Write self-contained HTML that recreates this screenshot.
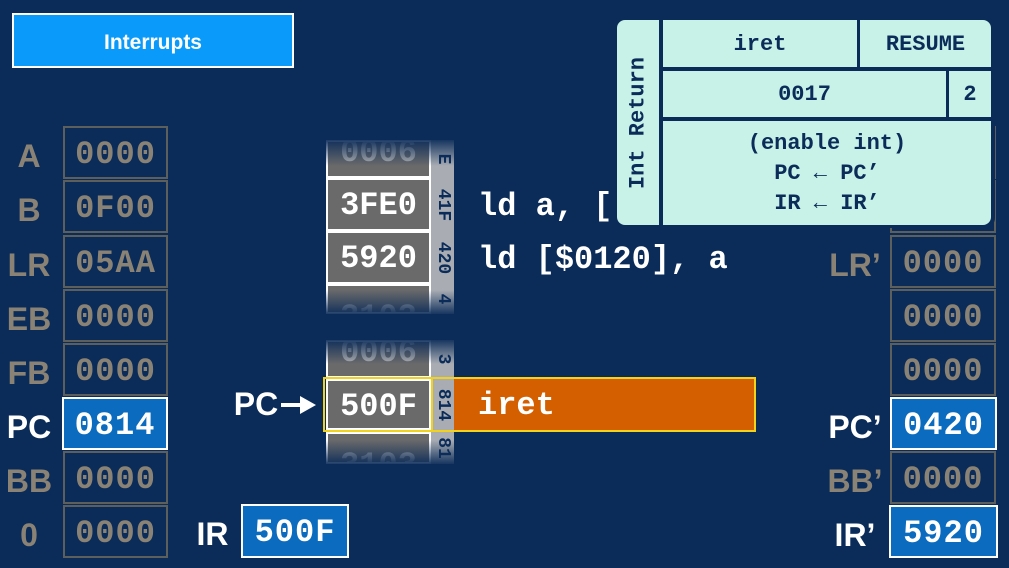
<!DOCTYPE html>
<html><head><style>
body{margin:0;width:1009px;height:568px;background:#0b2c59;position:relative;overflow:hidden;font-family:"Liberation Sans",sans-serif}
div{position:absolute;box-sizing:border-box}
.lab{font-weight:bold;font-size:32px;color:#8a8375;text-align:center;line-height:56px}
.reg{border:2px solid #5d5f5c;color:#8a8375;font:bold 32px "Liberation Mono",monospace;text-align:center;line-height:54px;letter-spacing:1px}
.act{background:#0a6bbf;border:2px solid #fff;color:#fff}
.w{color:#fff}
.mem{left:326px;width:105px;background:#6a6a6a;border:2px solid #fff;color:#fff;font:bold 32px "Liberation Mono",monospace;text-align:center;line-height:52px}
.tag{left:431px;width:23px;background:#a9adb3;color:#0b2c59;font:bold 18px "Liberation Mono",monospace}
.tag span{position:absolute;left:50%;top:50%;transform:translate(-50%,-50%) rotate(90deg);white-space:nowrap}
.asm{color:#fff;font:bold 32px "Liberation Mono",monospace;white-space:pre}
.pc{background:#c8f1e7;border-radius:8px;color:#0b2c59;font:bold 22px "Liberation Mono",monospace;text-align:center}
.fadeT{background:linear-gradient(#0b2c59,rgba(11,44,89,0))}
.fadeB{background:linear-gradient(rgba(11,44,89,0),#0b2c59)}
</style></head><body>
<div style="left:12px;top:13px;width:282px;height:55px;background:#0a9bfa;border:2px solid #fff;color:#fff;font-weight:bold;font-size:21px;text-align:center;line-height:55px">Interrupts</div>

<div class="lab" style="left:0;top:128px;width:58px">A</div><div class="reg" style="left:63px;top:126px;width:105px;height:53px">0000</div>
<div class="lab" style="left:0;top:182px;width:58px">B</div><div class="reg" style="left:63px;top:180px;width:105px;height:53px">0F00</div>
<div class="lab" style="left:0;top:237px;width:58px">LR</div><div class="reg" style="left:63px;top:235px;width:105px;height:53px">05AA</div>
<div class="lab" style="left:0;top:291px;width:58px">EB</div><div class="reg" style="left:63px;top:289px;width:105px;height:53px">0000</div>
<div class="lab" style="left:0;top:345px;width:58px">FB</div><div class="reg" style="left:63px;top:343px;width:105px;height:53px">0000</div>
<div class="lab w" style="left:0;top:399px;width:58px">PC</div><div class="reg act" style="left:62px;top:397px;width:106px;height:53px">0814</div>
<div class="lab" style="left:0;top:453px;width:58px">BB</div><div class="reg" style="left:63px;top:451px;width:105px;height:53px">0000</div>
<div class="lab" style="left:0;top:507px;width:58px">0</div><div class="reg" style="left:63px;top:505px;width:105px;height:53px">0000</div>

<div class="lab w" style="left:190px;top:506px;width:45px">IR</div>
<div class="reg act" style="left:241px;top:504px;width:108px;height:54px">500F</div>

<div class="mem" style="top:140px;height:38px;line-height:22px;color:#b0b0b0;overflow:hidden">0006</div>
<div class="tag" style="top:140px;height:38px"><span>E</span></div>
<div class="mem" style="top:178px;height:53px">3FE0</div><div class="tag" style="top:178px;height:53px"><span>41F</span></div>
<div class="mem" style="top:231px;height:53px">5920</div><div class="tag" style="top:231px;height:53px"><span>420</span></div>
<div class="mem" style="top:284px;height:30px;line-height:64px;color:#b0b0b0;overflow:hidden">3103</div>
<div class="tag" style="top:284px;height:30px"><span>4</span></div>
<div class="fadeT" style="left:320px;top:138px;width:140px;height:28px"></div>
<div class="fadeB" style="left:320px;top:290px;width:140px;height:26px"></div>
<div class="asm" style="left:478px;top:188px">ld a, [</div>
<div class="asm" style="left:478px;top:241px">ld [$0120], a</div>

<div class="mem" style="top:340px;height:38px;line-height:22px;color:#b0b0b0;overflow:hidden">0006</div>
<div class="tag" style="top:340px;height:38px"><span>3</span></div>
<div class="mem" style="top:432px;height:32px;line-height:64px;color:#b0b0b0;overflow:hidden">3103</div>
<div class="tag" style="top:432px;height:32px"><span>81</span></div>
<div class="fadeT" style="left:320px;top:338px;width:140px;height:26px"></div>
<div class="fadeB" style="left:320px;top:440px;width:140px;height:26px"></div>
<div style="left:323px;top:377px;width:110px;height:55px;border:2px solid #f2d21b"></div>
<div class="mem" style="top:379px;height:51px;line-height:51px">500F</div>
<div class="tag" style="top:379px;height:51px"><span>814</span></div>
<div style="left:431px;top:377px;width:325px;height:55px;border:2px solid #f2d21b"></div>
<div style="left:454px;top:379px;width:300px;height:51px;background:#d45f00"></div>
<div class="asm" style="left:478px;top:387px">iret</div>
<div class="lab w" style="left:226px;top:376px;width:60px">PC</div>
<div style="left:281px;top:403px;width:22px;height:4px;background:#fff"></div>
<div style="left:300px;top:396px;width:0;height:0;border-left:16px solid #fff;border-top:9px solid transparent;border-bottom:9px solid transparent"></div>

<div class="reg" style="left:890px;top:126px;width:106px;height:53px"></div>
<div class="reg" style="left:890px;top:180px;width:106px;height:53px"></div>
<div class="lab" style="left:822px;top:237px;width:66px">LR’</div><div class="reg" style="left:890px;top:235px;width:106px;height:53px">0000</div>
<div class="reg" style="left:890px;top:289px;width:106px;height:53px">0000</div>
<div class="reg" style="left:890px;top:343px;width:106px;height:53px">0000</div>
<div class="lab w" style="left:822px;top:399px;width:66px">PC’</div><div class="reg act" style="left:890px;top:397px;width:107px;height:53px">0420</div>
<div class="lab" style="left:822px;top:453px;width:66px">BB’</div><div class="reg" style="left:890px;top:451px;width:106px;height:53px">0000</div>
<div class="lab w" style="left:822px;top:507px;width:66px">IR’</div><div class="reg act" style="left:889px;top:505px;width:109px;height:53px">5920</div>

<div style="left:615px;top:17px;width:380px;height:211px;background:#0b2c59;border-radius:10px"></div>
<div class="pc" style="left:617px;top:20px;width:42px;height:205px;border-radius:8px 0 0 8px"><span style="position:absolute;left:50%;top:50%;transform:translate(-50%,-50%) rotate(-90deg);white-space:nowrap">Int Return</span></div>
<div class="pc" style="left:663px;top:20px;width:194px;height:47px;border-radius:0;line-height:49px">iret</div>
<div class="pc" style="left:860px;top:20px;width:131px;height:47px;border-radius:0 8px 0 0;line-height:49px">RESUME</div>
<div class="pc" style="left:663px;top:71px;width:283px;height:46px;border-radius:0;line-height:48px">0017</div>
<div class="pc" style="left:949px;top:71px;width:42px;height:46px;border-radius:0;line-height:48px">2</div>
<div class="pc" style="left:663px;top:121px;width:328px;height:104px;border-radius:0 0 8px 0;line-height:30px;padding-top:8px">(enable int)<br>PC ← PC’<br>IR ← IR’</div>
</body></html>
